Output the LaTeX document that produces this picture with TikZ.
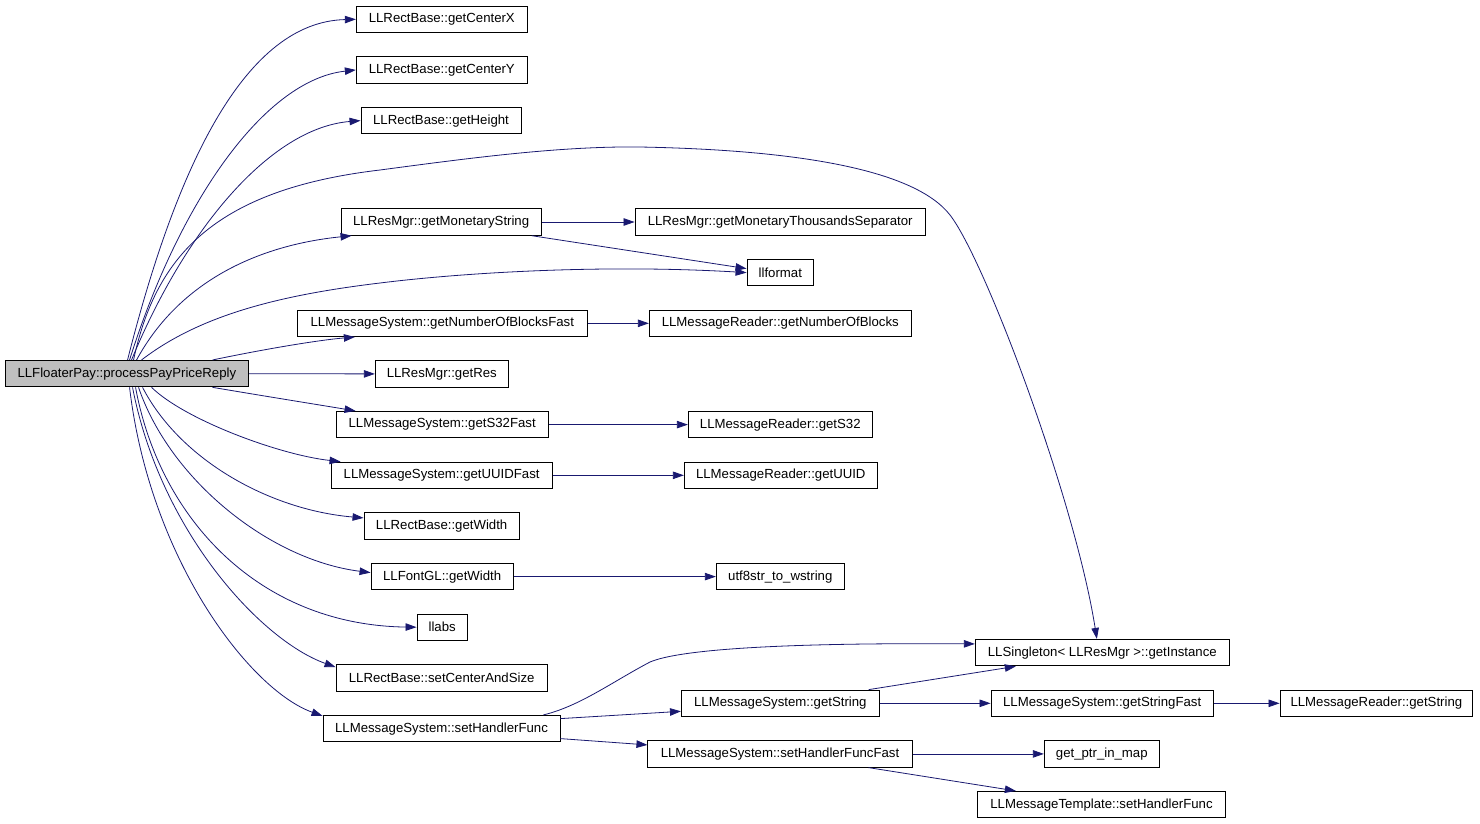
\documentclass[tikz,border=0pt]{standalone}
\usepackage{fontspec}
\setmainfont{Liberation Sans}
\usetikzlibrary{arrows.meta,calc}
\definecolor{edgeblue}{HTML}{191970}
\definecolor{maingray}{HTML}{BFBFBF}
\tikzset{
  fnbox/.style={draw=black, line width=0.9pt, fill=white, minimum height=26.5pt, inner sep=0pt,
    font=\fontsize{13.2}{15}\selectfont, text=black},
  mainbox/.style={fnbox, fill=maingray},
  edge/.style={draw=edgeblue, line width=0.8pt, -{Triangle[length=11pt,width=7.5pt]}},
}
\begin{document}
\begin{tikzpicture}[x=1pt,y=-1pt]
\useasboundingbox (0,0) rectangle (1480,823);
% main
\node[mainbox, minimum width=243.7pt] (m) at (126.85,373.65) {LLFloaterPay::processPayPriceReply};
% left column
\node[fnbox, minimum width=171pt] (cx) at (441.8,19.3) {LLRectBase::getCenterX};
\node[fnbox, minimum width=171pt] (cy) at (441.8,69.95) {LLRectBase::getCenterY};
\node[fnbox, minimum width=160pt] (ht) at (441,120.6) {LLRectBase::getHeight};
\node[fnbox, minimum width=200.3pt] (ms) at (441.15,222) {LLResMgr::getMonetaryString};
\node[fnbox, minimum width=290pt] (nbf) at (442.3,323.3) {LLMessageSystem::getNumberOfBlocksFast};
\node[fnbox, minimum width=133pt] (res) at (441.8,373.9) {LLResMgr::getRes};
\node[fnbox, minimum width=212.3pt] (s32f) at (442.15,424.6) {LLMessageSystem::getS32Fast};
\node[fnbox, minimum width=221.3pt] (uuf) at (441.65,475.3) {LLMessageSystem::getUUIDFast};
\node[fnbox, minimum width=155.3pt] (wd) at (441.65,525.9) {LLRectBase::getWidth};
\node[fnbox, minimum width=142.3pt] (fw) at (442.15,576.6) {LLFontGL::getWidth};
\node[fnbox, minimum width=50.3pt] (lab) at (442.15,627.2) {llabs};
\node[fnbox, minimum width=211.3pt] (sca) at (441.65,677.8) {LLRectBase::setCenterAndSize};
\node[fnbox, minimum width=237pt] (shf) at (441.5,728.6) {LLMessageSystem::setHandlerFunc};
% middle column
\node[fnbox, minimum width=290.4pt] (mts) at (780.2,222) {LLResMgr::getMonetaryThousandsSeparator};
\node[fnbox, minimum width=66.6pt] (lf) at (780.3,272.6) {llformat};
\node[fnbox, minimum width=262pt] (nb) at (780.3,323.3) {LLMessageReader::getNumberOfBlocks};
\node[fnbox, minimum width=184pt] (s32) at (780.3,424.6) {LLMessageReader::getS32};
\node[fnbox, minimum width=193pt] (uu) at (780.8,475.3) {LLMessageReader::getUUID};
\node[fnbox, minimum width=128pt] (utf) at (780.3,576.6) {utf8str\_to\_wstring};
\node[fnbox, minimum width=197.9pt] (gs) at (780.35,703.3) {LLMessageSystem::getString};
\node[fnbox, minimum width=264.2pt] (shff) at (780,753.9) {LLMessageSystem::setHandlerFuncFast};
% right columns
\node[fnbox, minimum width=254pt] (gi) at (1102.3,652.6) {LLSingleton< LLResMgr >::getInstance};
\node[fnbox, minimum width=222.3pt] (gsf) at (1102.15,703.3) {LLMessageSystem::getStringFast};
\node[fnbox, minimum width=192.7pt] (mrgs) at (1376.35,703.3) {LLMessageReader::getString};
\node[fnbox, minimum width=115pt] (gpm) at (1101.8,753.9) {get\_ptr\_in\_map};
\node[fnbox, minimum width=248.4pt] (mtshf) at (1101.5,804.6) {LLMessageTemplate::setHandlerFunc};

% edges from main, upper fan
\draw[edge] ($(m.north west)+(123,0)$) .. controls (178,160) and (247,22) .. (cx.west);
\draw[edge] ($(m.north west)+(125,0)$) .. controls (180,200) and (265,80) .. (cy.west);
\draw[edge] ($(m.north west)+(127,0)$) .. controls (185,230) and (270,128) .. (ht.west);
\draw[edge] ($(m.north west)+(129,0)$) .. controls (155,260) and (210,190) .. (380,170)
  .. controls (470,158) and (560,146) .. (640,147)
  .. controls (800,150) and (915,170) .. (950,215)
  .. controls (985,260) and (1075,500) .. ($(gi.north west)+(122,0)$);
\draw[edge] ($(m.north west)+(132,0)$) .. controls (180,280) and (260,245) .. ($(ms.south west)+(11,0)$);
\draw[edge] ($(m.north west)+(137,0)$) .. controls (200,315) and (280,295) .. (380,283)
  .. controls (460,273) and (600,264) .. (lf.west);
\draw[edge] ($(m.north west)+(208,0)$) .. controls (270,348) and (320,340) .. ($(nbf.south west)+(58,0)$);
\draw[edge] (m.east) -- (res.west);
% lower fan
\draw[edge] ($(m.south west)+(208,0)$) .. controls (270,397) and (320,405) .. ($(s32f.north west)+(20,0)$);
\draw[edge] ($(m.south west)+(147,0)$) .. controls (185,420) and (280,455) .. ($(uuf.north west)+(10,0)$);
\draw[edge] ($(m.south west)+(138,0)$) .. controls (180,460) and (270,510) .. ($(wd.west)+(0,-8)$);
\draw[edge] ($(m.south west)+(134,0)$) .. controls (170,480) and (270,560) .. ($(fw.west)+(0,-4)$);
\draw[edge] ($(m.south west)+(131,0)$) .. controls (160,520) and (260,625) .. (lab.west);
\draw[edge] ($(m.south west)+(128,0)$) .. controls (160,530) and (260,640) .. ($(sca.north west)+(0,3)$);
\draw[edge] ($(m.south west)+(125,0)$) .. controls (150,560) and (250,690) .. ($(shf.north west)+(0,1)$);

% second level
\draw[edge] (ms.east) -- (mts.west);
\draw[edge] ($(ms.south east)+(-10,0)$) -- ($(lf.west)+(0,-4)$);
\draw[edge] (nbf.east) -- (nb.west);
\draw[edge] (s32f.east) -- (s32.west);
\draw[edge] (uuf.east) -- (uu.west);
\draw[edge] (fw.east) -- (utf.west);
\draw[edge] ($(shf.north east)+(-17,0)$) .. controls (580,706) and (612,682) .. (650,662)
  .. controls (690,645) and (850,643) .. ($(gi.west)+(0,-8.7)$);
\draw[edge] ($(shf.east)+(0,-10)$) -- ($(gs.west)+(0,8)$);
\draw[edge] ($(shf.east)+(0,10)$) -- ($(shff.west)+(0,-9)$);
\draw[edge] ($(gs.north east)+(-11,0)$) -- ($(gi.south west)+(41,0)$);
\draw[edge] (gs.east) -- (gsf.west);
\draw[edge] (gsf.east) -- (mrgs.west);
\draw[edge] (shff.east) -- (gpm.west);
\draw[edge] ($(shff.south east)+(-44,0)$) -- ($(mtshf.north west)+(39,0)$);
\end{tikzpicture}
\end{document}
